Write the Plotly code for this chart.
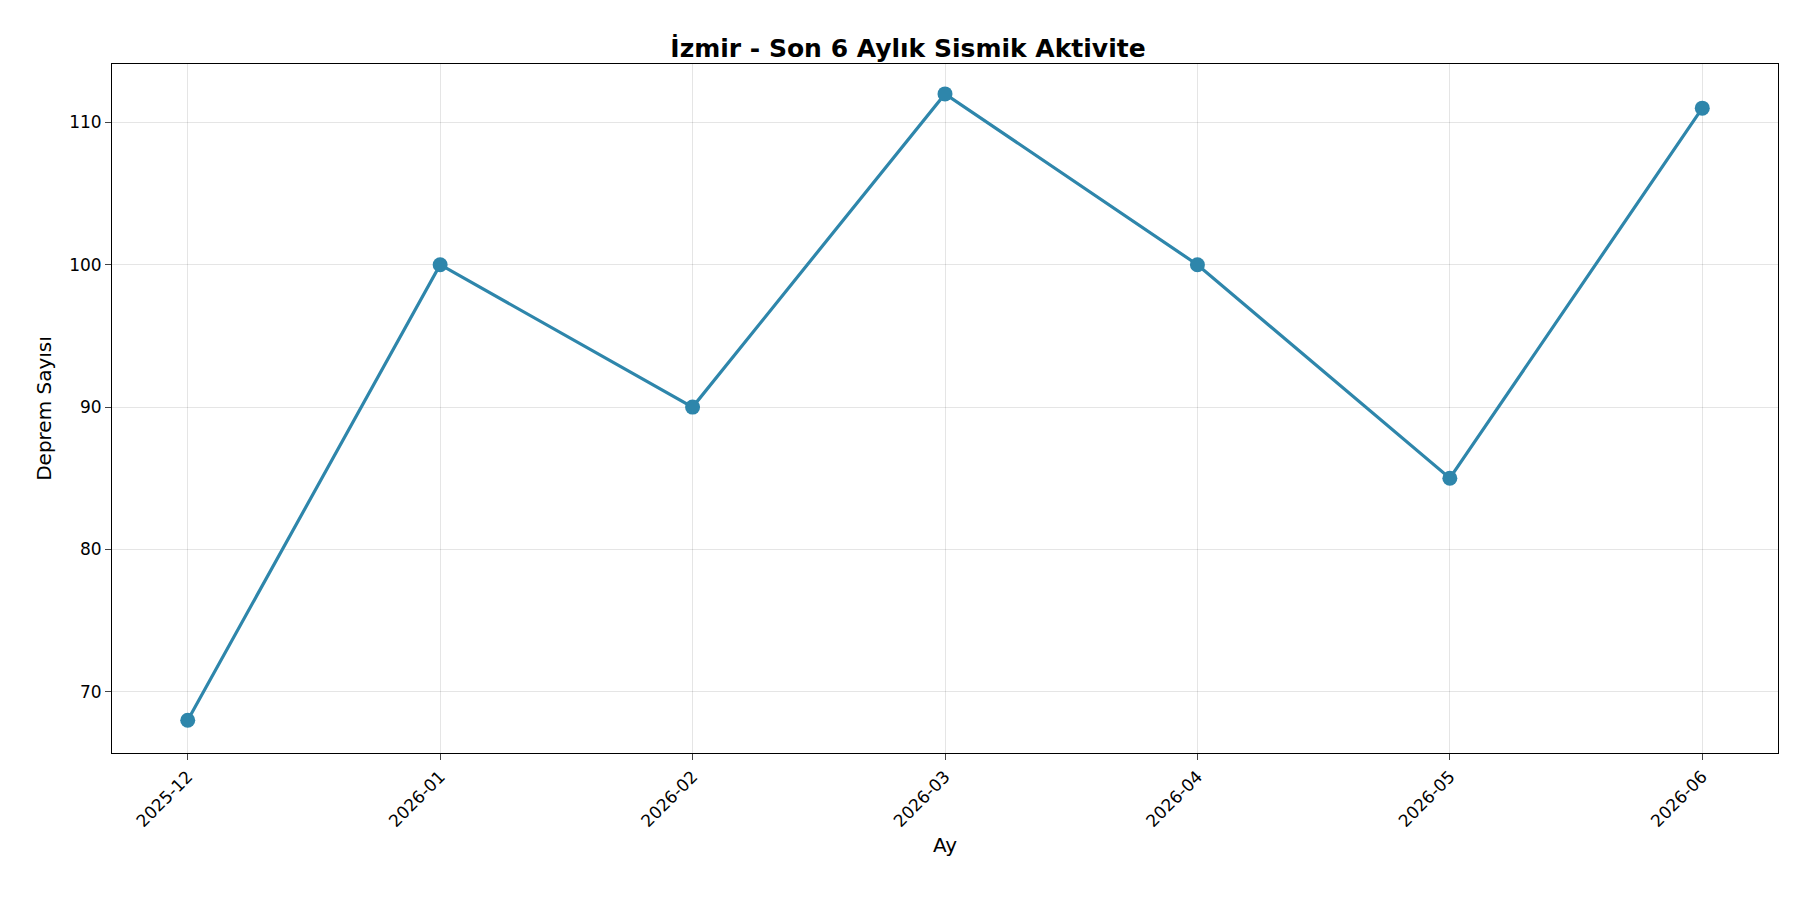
import plotly.graph_objects as go

months = ["2025-12", "2026-01", "2026-02", "2026-03", "2026-04", "2026-05", "2026-06"]
counts = [68, 100, 90, 112, 100, 85, 111]

fig = go.Figure(go.Scatter(
    x=months, y=counts, mode="lines+markers",
    line=dict(color="#2E86AB", width=3.2),
    marker=dict(color="#2E86AB", size=15),
))
fig.update_layout(
    width=1800, height=900,
    paper_bgcolor="white", plot_bgcolor="white",
    font=dict(family="DejaVu Sans", color="black", size=17),
    title=dict(text="<b>İzmir - Son 6 Aylık Sismik Aktivite</b>", x=0.5, xanchor="center",
               y=0.965, font=dict(size=25)),
    margin=dict(l=104, r=30, t=56, b=155),
    showlegend=False,
)
fig.update_xaxes(type="category", range=[-0.3, 6.3], tickangle=-45,
                 showgrid=True, gridcolor="rgba(0,0,0,0.1)",
                 showline=True, linecolor="black", mirror=True,
                 ticks="outside", ticklen=6,
                 title=dict(text="Ay", font=dict(size=20), standoff=8))
fig.update_yaxes(range=[65.7, 114.1], tickvals=[70, 80, 90, 100, 110],
                 showgrid=True, gridcolor="rgba(0,0,0,0.1)", zeroline=False,
                 showline=True, linecolor="black", mirror=True,
                 ticks="outside", ticklen=6,
                 title=dict(text="Deprem Sayısı", font=dict(size=20), standoff=12))
fig.write_html("out.html")
